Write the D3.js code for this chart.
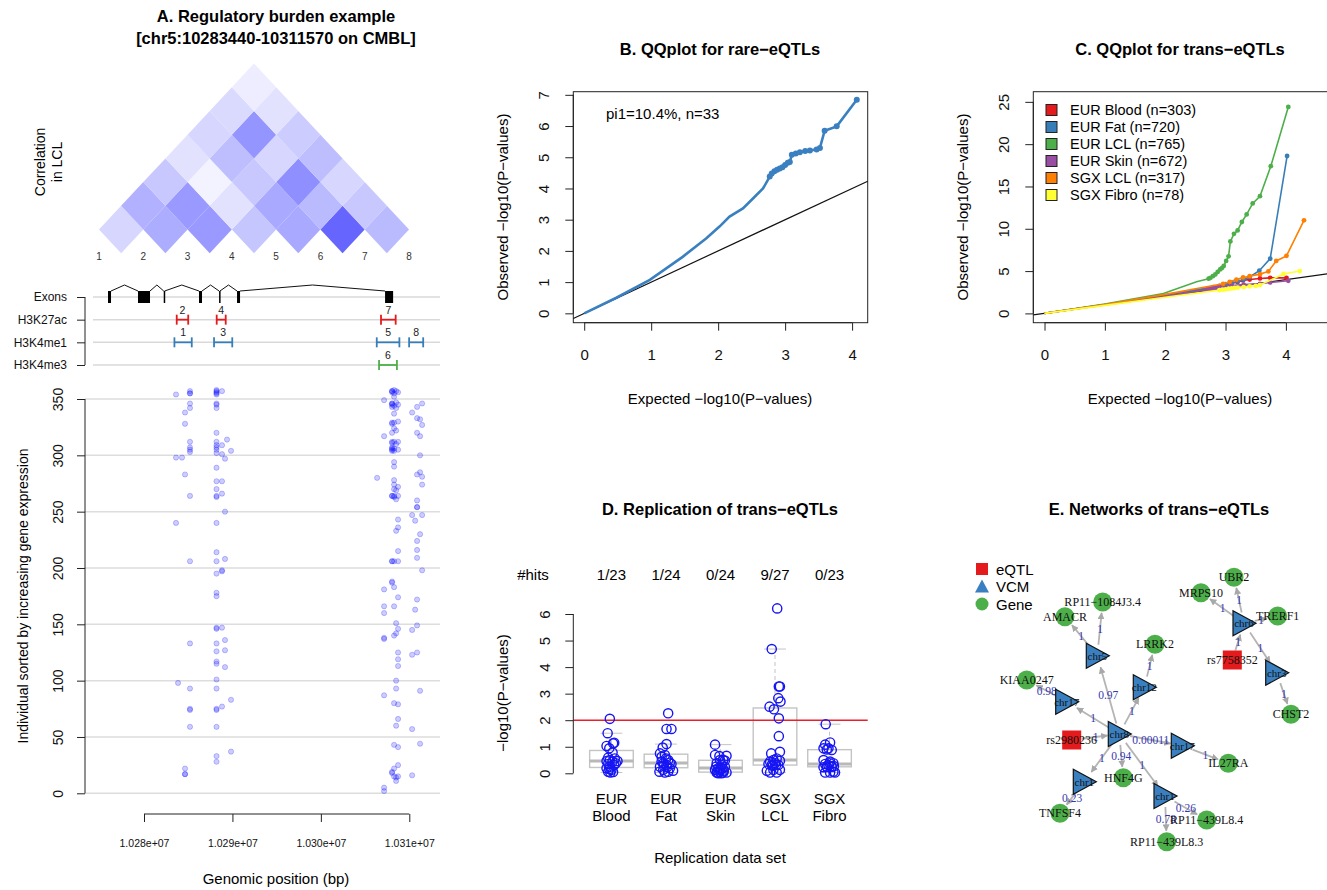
<!DOCTYPE html>
<html>
<head>
<meta charset="utf-8">
<script src="https://cdn.jsdelivr.net/npm/d3@7"></script>
<style>
  body { margin: 0; background: #fff; }
  svg { font-family: "Liberation Sans", Arial, Helvetica, sans-serif; }
  .serif { font-family: "Liberation Serif", "Times New Roman", serif; }
</style>
</head>
<body>
<div id="chart"></div>
<script>
// ---------------- data ----------------

// A: LD (correlation) between the 8 regulatory peaks
const snpIds = [1, 2, 3, 4, 5, 6, 7, 8];
const ldPairs = [
  [1,2,.20],[2,3,.40],[3,4,.50],[4,5,.28],[5,6,.42],[6,7,.75],[7,8,.34],
  [1,3,.38],[2,4,.50],[3,5,.14],[4,6,.42],[5,7,.34],[6,8,.27],
  [1,4,.27],[2,5,.06],[3,6,.27],[4,7,.55],[5,8,.20],
  [1,5,.14],[2,6,.32],[3,7,.20],[4,8,.32],
  [1,6,.20],[2,7,.52],[3,8,.25],
  [1,7,.18],[2,8,.14],
  [1,8,.09]
];

// A: gene model and peaks
const tracks = ["Exons", "H3K27ac", "H3K4me1", "H3K4me3"];
const exons = [
  [10275930, 10276270], [10279320, 10280680], [10282230, 10282330], [10286220, 10286560],
  [10288490, 10288590], [10290520, 10290860], [10307260, 10308170]
];
const peaks = [
  { track: "H3K27ac", id: 2, start: 10283700, end: 10285000 },
  { track: "H3K27ac", id: 4, start: 10288220, end: 10289240 },
  { track: "H3K27ac", id: 7, start: 10306800, end: 10308460 },
  { track: "H3K4me1", id: 1, start: 10283440, end: 10285400 },
  { track: "H3K4me1", id: 3, start: 10287920, end: 10289980 },
  { track: "H3K4me1", id: 5, start: 10306320, end: 10308880 },
  { track: "H3K4me1", id: 8, start: 10309980, end: 10311570 },
  { track: "H3K4me3", id: 6, start: 10306580, end: 10308600 }
];
const posTicks = [10280000, 10290000, 10300000, 10310000];

// A: carriers (individual rank) per variant position
const carriers = [
  [10283620, [354, 298, 240]],
  [10283850, [98]],
  [10284300, [298]],
  [10284640, [338, 328, 283, 22, 17, 17]],
  [10285200, [357, 355, 355, 346, 342, 312, 307, 305, 303, 264, 206, 133, 93, 75, 74, 59]],
  [10288200, [358, 357, 356, 355, 354, 346, 345, 342, 320, 312, 309, 307, 305, 302, 289, 277, 270, 264, 263, 240, 214, 206, 195, 178, 175, 147, 146, 133, 126, 117, 115, 101, 93, 75, 74, 59, 33, 28]],
  [10288820, [357, 309, 301, 277, 266, 198, 197, 147, 77]],
  [10289160, [297, 250, 208, 136, 127, 112]],
  [10289390, [314]],
  [10289840, [304, 83, 37]],
  [10306360, [280]],
  [10307150, [349, 317, 181, 166, 160, 138, 137, 87, 5, 2]],
  [10308050, [357, 357, 356, 346, 346, 345, 343, 329, 328, 320, 312, 311, 307, 306, 305, 304, 264, 264, 206, 206, 188, 187, 19, 18]],
  [10308280, [358, 355, 352, 344, 337, 329, 324, 312, 306, 304, 294, 290, 278, 274, 270, 264, 263, 206, 183, 166, 140, 80, 43, 22, 15]],
  [10308510, [357, 347, 342, 322, 310, 269, 261, 233, 151, 142, 100, 93, 60, 14, 11]],
  [10308730, [356, 345, 330, 312, 305, 272, 264, 243, 236, 215, 206, 174, 146, 125, 119, 113, 79, 66, 41, 25, 15]],
  [10310320, [338, 247, 145, 123, 57, 16]],
  [10310660, [242, 163]],
  [10310880, [343, 333, 320, 283, 260, 254, 254, 224, 216, 209, 172, 149, 125]],
  [10311220, [332, 317, 300, 285, 230, 91, 44]],
  [10311450, [346, 327, 281, 274, 247, 198]]
];

// B: QQ plot rare eQTLs
const rareExp = [0, 0.48, 0.98, 1.47, 1.82, 2.02, 2.17, 2.37, 2.52, 2.67, 2.77, 2.80, 2.84, 2.88, 2.92, 2.96, 3.00, 3.04, 3.07, 3.10, 3.16, 3.22, 3.30, 3.37, 3.47, 3.52, 3.59, 3.77, 4.07];
const rareObs = [0, 0.50, 1.07, 1.81, 2.40, 2.78, 3.10, 3.36, 3.68, 4.00, 4.38, 4.48, 4.55, 4.60, 4.64, 4.68, 4.75, 4.82, 4.85, 5.08, 5.12, 5.16, 5.20, 5.22, 5.25, 5.30, 5.85, 5.99, 6.84];

// C: QQ plot trans eQTLs
const transNames = ["EUR Blood (n=303)", "EUR Fat (n=720)", "EUR LCL (n=765)", "EUR Skin (n=672)", "SGX LCL (n=317)", "SGX Fibro (n=78)"];
const transColors = ["#e41a1c", "#377eb8", "#4daf4a", "#984ea3", "#ff7f00", "#ffff33"];
const transSeries = [
  [[0,0],[1,1.05],[2,2.15],[2.8,3.05],[2.9,3.2],[3.0,3.35],[3.1,3.55],[3.2,3.7],[3.29,3.9],[3.4,4.0],[3.57,4.13],[3.74,4.2],[4.01,4.2]],
  [[0,0],[1,1.05],[2,2.2],[2.8,3.1],[2.9,3.25],[3.0,3.45],[3.1,3.6],[3.2,3.8],[3.3,4.0],[3.4,4.3],[3.56,5.05],[3.74,6.47],[4.02,18.6]],
  [[0,0],[1,1.1],[1.97,2.36],[2.52,3.73],[2.72,4.1],[2.75,4.2],[2.79,4.4],[2.83,4.6],[2.87,4.9],[2.91,5.2],[2.94,5.35],[2.97,5.6],[3.01,6.2],[3.05,6.75],[3.08,8.5],[3.14,9.4],[3.2,9.8],[3.27,10.8],[3.35,11.7],[3.45,13.0],[3.57,13.85],[3.75,17.4],[4.04,24.4]],
  [[0,0],[1,1.0],[2,2.0],[2.68,2.8],[2.72,2.9],[2.76,2.95],[2.8,3.0],[2.84,3.05],[2.88,3.1],[2.92,3.15],[2.96,3.2],[3.1,3.3],[3.3,3.4],[3.57,3.5],[3.74,3.66],[4.04,3.85]],
  [[0,0],[1,1.05],[2,2.25],[2.96,3.5],[3.07,3.73],[3.18,4.0],[3.29,4.25],[3.4,4.4],[3.57,4.64],[3.71,4.96],[3.84,6.2],[4.01,6.8],[4.3,11.0]],
  [[0,0],[1,0.95],[2,1.9],[2.9,2.75],[2.95,2.8],[3.0,2.85],[3.05,2.9],[3.1,2.95],[3.15,3.0],[3.2,3.05],[3.3,3.1],[3.4,3.2],[3.5,3.25],[3.57,3.35],[3.96,4.66],[4.23,5.0]]
];

// D: replication
const repSets = ["EUR\nBlood", "EUR\nFat", "EUR\nSkin", "SGX\nLCL", "SGX\nFibro"];
const repHits = ["1/23", "1/24", "0/24", "9/27", "0/23"];
const repVals = [
  [2.05,1.51,1.13,1.15,1.03,0.94,0.78,0.59,0.56,0.5,0.46,0.44,0.46,0.35,0.31,0.25,0.38,0.19,0.13,0.06,0.05,0.03,0.16],
  [2.26,1.67,1.67,1.1,0.97,0.75,0.62,0.69,0.5,0.4,0.38,0.31,0.35,0.25,0.13,0.06,0.1,0.03,0.44,0.56,0.19,0.23,0.06,0.28],
  [1.08,0.69,0.65,0.66,0.5,0.38,0.31,0.25,0.19,0.13,0.13,0.1,0.03,0,0.03,0.06,0.03,0.25,0.2,0.03,0.19,0.48,0.5,0],
  [6.21,4.68,3.27,3.27,2.83,2.7,2.51,2.41,2.07,1.4,0.81,0.75,0.56,0.5,0.44,0.47,0.38,0.31,0.31,0.35,0.31,0.13,0.03,0.03,0.13,0.1,0.28],
  [1.85,1.16,1.08,0.94,0.94,0.88,0.9,0.5,0.44,0.38,0.35,0.31,0.25,0.23,0.24,0.06,0.03,0.03,0.03,0.26,0.25,0.38,0.27]
];
const repJit = [
  [-0.03,-0.07,0.03,0.05,-0.09,-0.04,0.02,-0.06,0.06,-0.03,-0.09,0.02,0.11,-0.06,0.05,-0.03,0.08,-0.09,0,-0.06,0.03,-0.02,-0.04],
  [0.04,0.01,0.1,0.01,-0.06,-0.11,-0.08,-0.02,0.04,0.07,-0.05,0.01,0.1,-0.11,-0.05,0.04,0.13,-0.02,-0.08,0,0.07,0.02,-0.12,-0.04],
  [-0.1,-0.1,-0.02,0.11,0.05,-0.07,0.02,0.08,-0.04,-0.1,-0.01,0.06,-0.07,0.02,0.11,-0.02,0.05,-0.08,0,-0.06,0.04,0.08,-0.01,-0.04],
  [0.04,-0.06,0.07,0.09,0.06,0.1,-0.1,-0.02,0.07,0.07,0.09,-0.07,0.03,-0.03,-0.09,0.09,0,-0.06,0.06,-0.12,0.02,-0.03,-0.09,0.03,0.09,-0.15,-0.04],
  [-0.07,0.01,-0.08,-0.11,-0.02,0.04,-0.05,-0.11,0.01,0.07,-0.08,-0.02,0.04,-0.11,-0.05,0.07,0.01,0.1,-0.08,0.04,-0.05,0,0.08]
];

// E: network (layout units)
const netNodes = [
  { id: "v1", label: "chr5", type: "VCM", x: 7.73, y: 8.57 },
  { id: "v2", label: "chr12", type: "VCM", x: 12.43, y: 11.73 },
  { id: "v3", label: "chr17", type: "VCM", x: 4.67, y: 13.17 },
  { id: "v4", label: "chr8", type: "VCM", x: 9.93, y: 16.4 },
  { id: "v5", label: "chr17", type: "VCM", x: 16.23, y: 17.57 },
  { id: "v6", label: "chr1", type: "VCM", x: 6.43, y: 21.17 },
  { id: "v7", label: "chr1", type: "VCM", x: 14.5, y: 22.6 },
  { id: "v8", label: "chr6", type: "VCM", x: 22.4, y: 5.33 },
  { id: "v9", label: "chr3", type: "VCM", x: 25.67, y: 10.27 },
  { id: "s1", label: "rs2980236", type: "eQTL", x: 5.17, y: 17.0 },
  { id: "s2", label: "rs7758352", type: "eQTL", x: 21.23, y: 9.0 },
  { id: "UBR2", label: "UBR2", type: "Gene", x: 21.4, y: 0.73 },
  { id: "MRPS10", label: "MRPS10", type: "Gene", x: 18.1, y: 2.27 },
  { id: "TRERF1", label: "TRERF1", type: "Gene", x: 25.77, y: 4.6 },
  { id: "CHST2", label: "CHST2", type: "Gene", x: 27.1, y: 14.43 },
  { id: "RP11-1084J3.4", label: "RP11\u22121084J3.4", type: "Gene", x: 8.27, y: 3.2 },
  { id: "AMACR", label: "AMACR", type: "Gene", x: 4.5, y: 4.67 },
  { id: "LRRK2", label: "LRRK2", type: "Gene", x: 13.5, y: 7.43 },
  { id: "KIAA0247", label: "KIAA0247", type: "Gene", x: 0.67, y: 11.0 },
  { id: "IL27RA", label: "IL27RA", type: "Gene", x: 20.83, y: 19.33 },
  { id: "HNF4G", label: "HNF4G", type: "Gene", x: 10.33, y: 20.77 },
  { id: "TNFSF4", label: "TNFSF4", type: "Gene", x: 4.0, y: 24.33 },
  { id: "RP11-439L8.4", label: "RP11\u2212439L8.4", type: "Gene", x: 18.67, y: 25.0 },
  { id: "RP11-439L8.3", label: "RP11\u2212439L8.3", type: "Gene", x: 14.67, y: 27.17 }
];
const netEdges = [
  ["s1", "v4", "1"], ["v4", "v1", "0.97"], ["v4", "v2", "1"], ["v4", "v3", "1"],
  ["v4", "v5", "0.00011"], ["v4", "HNF4G", "0.94"], ["v4", "v6", "1"], ["v4", "v7", "1"],
  ["v1", "AMACR", "1"], ["v1", "RP11-1084J3.4", "1"], ["v2", "LRRK2", "1"], ["v3", "KIAA0247", "0.98"],
  ["v5", "IL27RA", "1"], ["v6", "TNFSF4", "0.23"], ["v7", "RP11-439L8.4", "0.26"], ["v7", "RP11-439L8.3", "0.78"],
  ["s2", "v8", "1"], ["v8", "MRPS10", "1"], ["v8", "UBR2", "1"], ["v8", "TRERF1", "1"],
  ["v8", "v9", "1"], ["v9", "CHST2", "1"]
];

// ---------------- drawing ----------------
const W = 1327, H = 890;
const svg = d3.select("#chart").append("svg").attr("width", W).attr("height", H);
svg.append("rect").attr("width", W).attr("height", H).attr("fill", "#fff");
const axisCol = "#222";
const intFmt = d3.format("d");

function title(x, y, txt) {
  svg.append("text").attr("x", x).attr("y", y).attr("text-anchor", "middle")
    .attr("dominant-baseline", "central").style("font-size", "16.5px").style("font-weight", "bold").text(txt);
}
function label(x, y, txt, size, rotate) {
  const t = svg.append("text").attr("text-anchor", "middle").attr("dominant-baseline", "central")
    .style("font-size", (size || 15) + "px").text(txt);
  if (rotate) t.attr("transform", `translate(${x},${y}) rotate(-90)`);
  else t.attr("x", x).attr("y", y);
  return t;
}
// R-style left axis with rotated labels
function rAxisLeft(x, scale, ticks, off, size) {
  const g = svg.append("g").attr("transform", `translate(${x},0)`)
    .call(d3.axisLeft(scale).tickValues(ticks).tickFormat(intFmt).tickSize(8).tickSizeOuter(0));
  g.attr("font-family", null).attr("font-size", null);
  g.select(".domain").remove();
  g.append("line").attr("y1", scale(ticks[0])).attr("y2", scale(ticks[ticks.length - 1])).attr("stroke", axisCol);
  g.selectAll(".tick line").attr("stroke", axisCol);
  g.selectAll(".tick text").attr("x", null).attr("dy", null).attr("fill", "#111")
    .attr("transform", `translate(${-off},0) rotate(-90)`)
    .attr("text-anchor", "middle").attr("dominant-baseline", "central")
    .style("font-size", (size || 15) + "px");
  return g;
}
function rAxisBottom(y, scale, ticks, off, size, fmt) {
  const ax = d3.axisBottom(scale).tickValues(ticks).tickFormat(fmt || intFmt).tickSize(8).tickSizeOuter(0);
  const g = svg.append("g").attr("transform", `translate(0,${y})`).call(ax);
  g.attr("font-family", null).attr("font-size", null);
  g.select(".domain").remove();
  g.append("line").attr("x1", scale(ticks[0])).attr("x2", scale(ticks[ticks.length - 1])).attr("stroke", axisCol);
  g.selectAll(".tick line").attr("stroke", axisCol);
  g.selectAll(".tick text").attr("y", off).attr("dy", null).attr("fill", "#111")
    .attr("dominant-baseline", "central").style("font-size", (size || 15) + "px");
  return g;
}

// ===== Panel A =====
title(276, 16, "A. Regulatory burden example");
title(276, 38, "[chr5:10283440-10311570 on CMBL]");

const xSnp = d3.scalePoint().domain(snpIds).range([99, 409]);
const rowY = d3.scaleLinear().domain([1, 7]).range([229.5, 87.3]);
const ldColor = d3.scaleLinear().domain([0, 1]).range(["#ffffff", "#3333ff"]);
const hw = xSnp.step() / 2, hh = rowY(1) - rowY(2);
svg.append("g").selectAll("path").data(ldPairs).join("path")
  .attr("d", d => {
    const cx = (xSnp(d[0]) + xSnp(d[1])) / 2, cy = rowY(d[1] - d[0]);
    return `M${cx - hw},${cy}L${cx},${cy - hh}L${cx + hw},${cy}L${cx},${cy + hh}Z`;
  })
  .attr("fill", d => ldColor(d[2]));
svg.append("g").selectAll("text").data(snpIds).join("text")
  .attr("x", d => xSnp(d)).attr("y", 256).attr("text-anchor", "middle")
  .attr("dominant-baseline", "central").style("font-size", "10px").attr("fill", "#333").text(d => d);
label(40, 162, "Correlation", 14, true);
label(57, 162, "in LCL", 14, true);

const xA = d3.scaleLinear().domain([10280000, 10310000]).range([144, 409.3]);
const yTrack = d3.scalePoint().domain(tracks).range([297, 365]);
const markColor = { H3K27ac: "#e41a1c", H3K4me1: "#377eb8", H3K4me3: "#4daf4a" };
const panelARight = 440;

// track grid + axis
svg.append("g").selectAll("line").data(tracks).join("line")
  .attr("x1", 93).attr("x2", panelARight).attr("y1", d => yTrack(d)).attr("y2", d => yTrack(d))
  .attr("stroke", "#d9d9d9").attr("stroke-width", 1.5);
const gt = svg.append("g").attr("transform", "translate(85,0)")
  .call(d3.axisLeft(yTrack).tickSize(8).tickSizeOuter(0));
gt.attr("font-family", null).attr("font-size", null);
gt.select(".domain").remove();
gt.append("line").attr("y1", yTrack(tracks[0])).attr("y2", yTrack(tracks[3])).attr("stroke", axisCol);
gt.selectAll(".tick line").attr("stroke", axisCol);
gt.selectAll(".tick text").attr("x", -18).attr("fill", "#111").style("font-size", "12px");

// gene model
const exTop = yTrack("Exons") - 6, exH = 12;
const introns = d3.pairs(exons).map(([a, b]) => [a[1], b[0]]);
svg.append("g").selectAll("path").data(introns).join("path")
  .attr("d", d => {
    const x1 = xA(d[0]), x2 = xA(d[1]), xm = (x1 + x2) / 2;
    return `M${x1},${exTop}L${xm},${exTop - 6}L${x2},${exTop}`;
  })
  .attr("fill", "none").attr("stroke", "#111").attr("stroke-width", 1);
svg.append("g").selectAll("rect").data(exons).join("rect")
  .attr("x", d => xA(d[0])).attr("width", d => Math.max(1.5, xA(d[1]) - xA(d[0])))
  .attr("y", exTop).attr("height", exH).attr("fill", "#000");

// peaks
const pk = svg.append("g").selectAll("g").data(peaks).join("g")
  .attr("stroke", d => markColor[d.track]).attr("stroke-width", 1.8);
pk.append("line").attr("x1", d => xA(d.start)).attr("x2", d => xA(d.end))
  .attr("y1", d => yTrack(d.track)).attr("y2", d => yTrack(d.track));
pk.append("line").attr("x1", d => xA(d.start)).attr("x2", d => xA(d.start))
  .attr("y1", d => yTrack(d.track) - 5).attr("y2", d => yTrack(d.track) + 5);
pk.append("line").attr("x1", d => xA(d.end)).attr("x2", d => xA(d.end))
  .attr("y1", d => yTrack(d.track) - 5).attr("y2", d => yTrack(d.track) + 5);
svg.append("g").selectAll("text").data(peaks).join("text")
  .attr("x", d => xA((d.start + d.end) / 2)).attr("y", d => yTrack(d.track) - 6)
  .attr("text-anchor", "middle").style("font-size", "10.5px").attr("fill", "#222").text(d => d.id);

// carriers scatter
const yA = d3.scaleLinear().domain([0, 350]).range([793.3, 399]);
const rankTicks = d3.range(0, 351, 50);
svg.append("g").selectAll("line").data(rankTicks).join("line")
  .attr("x1", 85).attr("x2", panelARight).attr("y1", d => yA(d)).attr("y2", d => yA(d))
  .attr("stroke", "#dddddd").attr("stroke-width", 1.5);
rAxisLeft(85, yA, rankTicks, 27, 14);
const aPoints = carriers.flatMap(([pos, ranks]) => ranks.map(r => [pos, r]));
svg.append("g").selectAll("circle").data(aPoints).join("circle")
  .attr("cx", d => xA(d[0])).attr("cy", d => yA(d[1])).attr("r", 2.6)
  .attr("fill", "rgba(0,0,255,0.2)").attr("stroke", "rgba(0,0,255,0.22)").attr("stroke-width", 1);
label(23, 596, "Individual sorted by increasing gene expression", 14, true);
rAxisBottom(814, xA, posTicks, 29, 10.5, d => (d / 1e7).toFixed(3) + "e+07");
label(276, 878, "Genomic position (bp)", 15);

// ===== Panel B =====
title(720, 49, "B. QQplot for rare\u2212eQTLs");
const xB = d3.scaleLinear().domain([-0.163, 4.233]).range([573.3, 867.7]);
const yB = d3.scaleLinear().domain([-0.3, 7.1]).range([322.7, 91.7]);
svg.append("rect").attr("x", 573.3).attr("y", 91.7).attr("width", 294.4).attr("height", 231)
  .attr("fill", "none").attr("stroke", axisCol);
rAxisLeft(573.3, yB, d3.range(0, 8), 30);
rAxisBottom(322.7, xB, [0, 1, 2, 3, 4], 32);
svg.append("line").attr("x1", xB(-0.163)).attr("y1", yB(-0.163)).attr("x2", xB(4.233)).attr("y2", yB(4.233))
  .attr("stroke", "#111").attr("stroke-width", 1.2);
const rare = rareExp.map((x, i) => [x, rareObs[i]]);
svg.append("path").datum(rare)
  .attr("d", d3.line().x(d => xB(d[0])).y(d => yB(d[1])))
  .attr("fill", "none").attr("stroke", "#3a80c0").attr("stroke-width", 2.6);
svg.append("g").selectAll("circle").data(rare.filter(d => d[0] >= 2.75)).join("circle")
  .attr("cx", d => xB(d[0])).attr("cy", d => yB(d[1])).attr("r", 3).attr("fill", "#3a80c0");
svg.append("text").attr("x", 606).attr("y", 113).attr("dominant-baseline", "central")
  .style("font-size", "15px").text("pi1=10.4%, n=33");
label(720, 398, "Expected \u2212log10(P\u2212values)", 15);
label(502, 207, "Observed \u2212log10(P\u2212values)", 15, true);

// ===== Panel C =====
title(1180, 49, "C. QQplot for trans\u2212eQTLs");
const xC = d3.scaleLinear().domain([-0.186, 4.698]).range([1033.3, 1328]);
const yC = d3.scaleLinear().domain([-1.1, 26.2]).range([322.7, 91.7]);
svg.append("clipPath").attr("id", "clipC").append("rect")
  .attr("x", 1033.3).attr("y", 91.7).attr("width", 294.7).attr("height", 231);
svg.append("rect").attr("x", 1033.3).attr("y", 91.7).attr("width", 294.7).attr("height", 231)
  .attr("fill", "none").attr("stroke", axisCol);
rAxisLeft(1033.3, yC, [0, 5, 10, 15, 20, 25], 30);
rAxisBottom(322.7, xC, [0, 1, 2, 3, 4], 32);
const gC = svg.append("g").attr("clip-path", "url(#clipC)");
gC.append("line").attr("x1", xC(-0.186)).attr("y1", yC(-0.186)).attr("x2", xC(4.698)).attr("y2", yC(4.698))
  .attr("stroke", "#111").attr("stroke-width", 1.2);
transSeries.forEach((s, i) => {
  gC.append("path").datum(s)
    .attr("d", d3.line().x(d => xC(d[0])).y(d => yC(d[1])))
    .attr("fill", "none").attr("stroke", transColors[i]).attr("stroke-width", 1.6);
  gC.append("g").selectAll("circle").data(s.filter(d => d[0] >= 2.6)).join("circle")
    .attr("cx", d => xC(d[0])).attr("cy", d => yC(d[1])).attr("r", 2.4).attr("fill", transColors[i]);
});
const lg = svg.append("g").selectAll("g").data(transNames).join("g")
  .attr("transform", (d, i) => `translate(1046,${110 + i * 17})`);
lg.append("rect").attr("x", 0).attr("y", -5.5).attr("width", 11).attr("height", 11)
  .attr("fill", (d, i) => transColors[i]).attr("stroke", "#222");
lg.append("text").attr("x", 24).attr("dominant-baseline", "central").style("font-size", "14.5px").text(d => d);
label(1180, 398, "Expected \u2212log10(P\u2212values)", 15);
label(962, 207, "Observed \u2212log10(P\u2212values)", 15, true);

// ===== Panel D =====
title(720, 509, "D. Replication of trans\u2212eQTLs");
const xD = d3.scaleLinear().domain([0.3, 5.7]).range([573.3, 867.7]);
const yD = d3.scaleLinear().domain([0, 6]).range([773.3, 614]);
function fivenum(v) {
  const x = v.slice().sort((a, b) => a - b), n = x.length;
  const n4 = Math.floor((n + 3) / 2) / 2;
  const at = p => 0.5 * (x[Math.floor(p) - 1] + x[Math.ceil(p) - 1]);
  return [x[0], at(n4), at((n + 1) / 2), at(n + 1 - n4), x[n - 1]];
}
const boxCol = "#c4c4c4", bw = 0.4;
repVals.forEach((vals, i) => {
  const [, q1, med, q3] = fivenum(vals);
  const iqr = q3 - q1;
  const hiW = d3.max(vals.filter(v => v <= q3 + 1.5 * iqr));
  const loW = d3.min(vals.filter(v => v >= q1 - 1.5 * iqr));
  const cx = xD(i + 1);
  const g = svg.append("g").attr("stroke", boxCol).attr("fill", "none");
  g.append("line").attr("x1", cx).attr("x2", cx).attr("y1", yD(q3)).attr("y2", yD(hiW)).attr("stroke-dasharray", "4,3");
  g.append("line").attr("x1", cx).attr("x2", cx).attr("y1", yD(q1)).attr("y2", yD(loW)).attr("stroke-dasharray", "4,3");
  g.append("line").attr("x1", xD(i + 1 - bw / 2)).attr("x2", xD(i + 1 + bw / 2)).attr("y1", yD(hiW)).attr("y2", yD(hiW));
  g.append("line").attr("x1", xD(i + 1 - bw / 2)).attr("x2", xD(i + 1 + bw / 2)).attr("y1", yD(loW)).attr("y2", yD(loW));
  g.append("rect").attr("x", xD(i + 1 - bw)).attr("width", xD(i + 1 + bw) - xD(i + 1 - bw))
    .attr("y", yD(q3)).attr("height", yD(q1) - yD(q3)).attr("stroke-width", 1.4);
  g.append("line").attr("x1", xD(i + 1 - bw)).attr("x2", xD(i + 1 + bw)).attr("y1", yD(med)).attr("y2", yD(med))
    .attr("stroke-width", 3).attr("stroke", "#b8b8b8");
});
svg.append("line").attr("x1", 573.3).attr("x2", 867.7).attr("y1", yD(2)).attr("y2", yD(2))
  .attr("stroke", "#e8202a").attr("stroke-width", 1.5);
const dPts = repVals.flatMap((vals, i) => vals.map((v, j) => [i + 1 + repJit[i][j], v]));
svg.append("g").selectAll("circle").data(dPts).join("circle")
  .attr("cx", d => xD(d[0])).attr("cy", d => yD(d[1])).attr("r", 4.6)
  .attr("fill", "none").attr("stroke", "#1515f5").attr("stroke-width", 1.4);
rAxisLeft(573.3, yD, d3.range(0, 7), 29);
label(533, 574, "#hits", 15);
repHits.forEach((h, i) => label(xD(i + 1), 574, h, 15));
repSets.forEach((s, i) => {
  const [l1, l2] = s.split("\n");
  label(xD(i + 1), 798, l1, 15);
  label(xD(i + 1), 815, l2, 15);
});
label(720, 857, "Replication data set", 15);
label(502, 693, "\u2212log10(P\u2212values)", 15, true);

// ===== Panel E =====
title(1159, 509, "E. Networks of trans\u2212eQTLs");
const ex = d3.scaleLinear().domain([0, 30]).range([1020, 1320]);
const ey = d3.scaleLinear().domain([0, 30]).range([570, 870]);
const typeColor = { eQTL: "#e41a1c", VCM: "#3a80c0", Gene: "#4daf4a" };
const nodeById = new Map(netNodes.map(n => [n.id, n]));
const nodeR = { eQTL: 10, VCM: 11, Gene: 10 };

svg.append("defs").append("marker").attr("id", "arr").attr("viewBox", "0 0 10 10")
  .attr("refX", 9).attr("refY", 5).attr("markerWidth", 7).attr("markerHeight", 7)
  .attr("markerUnits", "userSpaceOnUse").attr("orient", "auto")
  .append("path").attr("d", "M0,0L10,5L0,10Z").attr("fill", "#a8a8a8");

const eg = svg.append("g");
netEdges.forEach(([s, t, w]) => {
  const a = nodeById.get(s), b = nodeById.get(t);
  const x1 = ex(a.x), y1 = ey(a.y), x2 = ex(b.x), y2 = ey(b.y);
  const len = Math.hypot(x2 - x1, y2 - y1), ux = (x2 - x1) / len, uy = (y2 - y1) / len;
  const r1 = nodeR[a.type], r2 = nodeR[b.type] + 1;
  eg.append("line").attr("x1", x1 + ux * r1).attr("y1", y1 + uy * r1)
    .attr("x2", x2 - ux * r2).attr("y2", y2 - uy * r2)
    .attr("stroke", "#b4b4b4").attr("stroke-width", 1.8).attr("marker-end", "url(#arr)");
  eg.append("text").attr("class", "serif").attr("x", (x1 + x2) / 2).attr("y", (y1 + y2) / 2)
    .attr("text-anchor", "middle").attr("dominant-baseline", "central")
    .style("font-size", "11.5px").attr("fill", "#3838b0").text(w);
});
const ng = svg.append("g").selectAll("g").data(netNodes).join("g")
  .attr("transform", d => `translate(${ex(d.x)},${ey(d.y)})`);
ng.filter(d => d.type === "Gene").append("circle").attr("r", 9.5).attr("fill", typeColor.Gene);
ng.filter(d => d.type === "eQTL").append("rect").attr("x", -9.5).attr("y", -9.5)
  .attr("width", 19).attr("height", 19).attr("fill", typeColor.eQTL);
ng.filter(d => d.type === "VCM").append("path").attr("d", "M-11,-12.5L12,0L-11,12.5Z")
  .attr("fill", typeColor.VCM).attr("stroke", "#111").attr("stroke-width", 1.2);
ng.append("text").attr("class", "serif").attr("text-anchor", "middle").attr("dominant-baseline", "central")
  .style("font-size", d => d.type === "VCM" ? "11px" : "12px").attr("fill", "#111").text(d => d.label);

// legend
const legE = [["eQTL", "eQTL"], ["VCM", "VCM"], ["Gene", "Gene"]];
const le = svg.append("g").selectAll("g").data(legE).join("g")
  .attr("transform", (d, i) => `translate(982,${569 + i * 17.5})`);
le.filter(d => d[0] === "eQTL").append("rect").attr("x", -6).attr("y", -6).attr("width", 12).attr("height", 12).attr("fill", typeColor.eQTL);
le.filter(d => d[0] === "VCM").append("path").attr("d", "M-7,6L0,-7L7,6Z").attr("fill", typeColor.VCM);
le.filter(d => d[0] === "Gene").append("circle").attr("r", 6.5).attr("fill", typeColor.Gene);
le.append("text").attr("x", 14).attr("dominant-baseline", "central").style("font-size", "15px").text(d => d[1]);
</script>
</body>
</html>
